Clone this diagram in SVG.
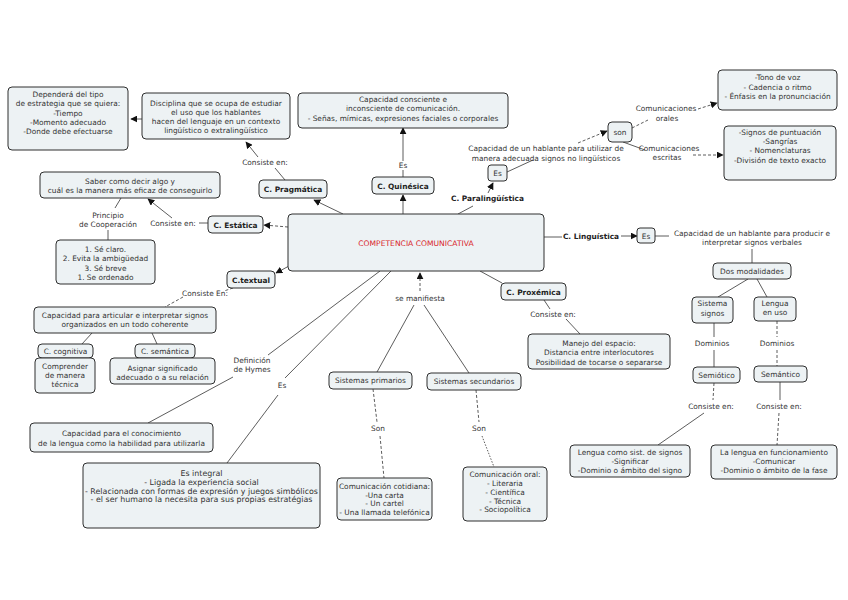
<svg xmlns="http://www.w3.org/2000/svg" width="848" height="600" viewBox="0 0 848 600">
<defs>
<style>
.b{fill:#edf2f4;stroke:#2e2e2e;stroke-width:1}
text{font-family:"DejaVu Sans","Liberation Sans",sans-serif;font-size:7.4px;fill:#333;text-anchor:middle}
.t{font-weight:bold;font-size:7.4px;fill:#222}
.r{fill:#d9252a;font-size:7.6px}
.w{font-size:7.9px}
.c{fill:none;stroke:#333;stroke-width:0.8}
.d{stroke-dasharray:3,2}
.a{marker-end:url(#ah)}
</style>
<marker id="ah" viewBox="0 0 10 10" refX="9" refY="5" markerWidth="7" markerHeight="7" markerUnits="userSpaceOnUse" orient="auto">
<path d="M0,0 L10,5 L0,10 z" fill="#111"/>
</marker>
</defs>
<rect width="848" height="600" fill="#fff"/>
<g id="connectors">
<path class="c a" d="M142,119 L131,119"/>
<path class="c" d="M285,180 L275,168"/>
<path class="c a" d="M258,157 L246,142"/>
<path class="c a" d="M343,214 L314,200"/>
<path class="c a" d="M403,214 L403,195"/>
<path class="c" d="M403,177 L403,170"/>
<path class="c a" d="M403,161 L403,128"/>
<path class="c" d="M458,214 L473,206"/>
<path class="c a" d="M488,193 L493,183"/>
<path class="c" d="M507,172 L533,160"/>
<path class="c d a" d="M578,143 L607,131"/>
<path class="c d" d="M632,128 L648,120"/>
<path class="c d a" d="M698,109 L717,103"/>
<path class="c" d="M623,142 L645,150"/>
<path class="c d a" d="M693,155 L723,155"/>
<path class="c d a" d="M288,227 L264,225"/>
<path class="c" d="M199,223 L208,223"/>
<path class="c a" d="M172,218 L148,199"/>
<path class="c" d="M121,198 L115,208"/>
<path class="c" d="M108,230 L108,240"/>
<path class="c a" d="M289,266 L276,273"/>
<path class="c d" d="M233,288 L224,291"/>
<path class="c d" d="M183,297 L165,307"/>
<path class="c" d="M92,333 L82,344"/>
<path class="c" d="M152,333 L157,344"/>
<path class="c" d="M380,271 L268,355"/>
<path class="c" d="M233,377 L148,423"/>
<path class="c" d="M391,271 L285,378"/>
<path class="c" d="M278,395 L227,463"/>
<path class="c d a" d="M420,291 L420,273"/>
<path class="c" d="M414,305 L377,372"/>
<path class="c" d="M424,305 L469,373"/>
<path class="c d" d="M373,389 L377,422"/>
<path class="c d" d="M380,436 L384,478"/>
<path class="c d" d="M476,390 L479,422"/>
<path class="c" style="stroke-dasharray:1.5,1.5" d="M482,436 L494,467"/>
<path class="c" d="M480,271 L502,283"/>
<path class="c" d="M544,300 L550,309"/>
<path class="c" d="M566,319 L580,334"/>
<path class="c" d="M544,237 L562,237"/>
<path class="c a" d="M621,236 L637,236"/>
<path class="c" d="M655,236 L669,236"/>
<path class="c" d="M752,249 L752,263"/>
<path class="c" d="M748,279 L718,297"/>
<path class="c" d="M757,279 L767,297"/>
<path class="c" d="M714,323 L714,337"/>
<path class="c" d="M714,350 L714,367"/>
<path class="c d" d="M777,321 L777,337"/>
<path class="c d" d="M777,350 L777,366"/>
<path class="c d" d="M714,383 L713,400"/>
<path class="c" d="M704,413 L658,445"/>
<path class="c" d="M780,382 L780,400"/>
<path class="c d" d="M779,413 L777,445"/>
</g>
<g id="labels">
<text x="265" y="164.5">Consiste en:</text>
<text x="403" y="168">Es</text>
<text class="t" x="487.5" y="200.5">C. Paralingüística</text>
<text x="546" y="150.5">Capacidad de un hablante para utilizar de</text>
<text x="546" y="160.5">manera adecuada signos no lingüísticos</text>
<text x="666" y="110.5">Comunicaciones</text>
<text x="667" y="120.5">orales</text>
<text x="669" y="150.5">Comunicaciones</text>
<text x="667" y="160">escritas</text>
<text x="108" y="217.5">Principio</text>
<text x="108" y="226.5">de Cooperación</text>
<text x="173" y="225.5">Consiste en:</text>
<text x="205" y="296">Consiste En:</text>
<text x="252" y="362.5">Definición</text>
<text x="252" y="371.5">de Hymes</text>
<text x="282" y="388">Es</text>
<text x="420" y="300.5">se manifiesta</text>
<text x="378" y="430.5">Son</text>
<text x="479" y="430.5">Son</text>
<text class="t" x="591" y="238.5">C. Linguística</text>
<text x="752" y="235.5">Capacidad de un hablante para producir e</text>
<text x="752" y="244.5">interpretar signos verbales</text>
<text x="553" y="317">Consiste en:</text>
<text x="712" y="345.5">Dominios</text>
<text x="777" y="345.5">Dominios</text>
<text x="711" y="409">Consiste en:</text>
<text x="779" y="409">Consiste en:</text>
</g>
<g id="n-dependera"><rect class="b" x="8" y="87" width="120" height="63" rx="4"/>
<text x="68" y="97">Dependerá del tipo</text><text x="68" y="106">de estrategia que se quiera:</text><text x="68" y="116">-Tiempo</text><text x="68" y="125">-Momento adecuado</text><text x="68" y="134">-Donde debe efectuarse</text></g>
<g id="n-disciplina"><rect class="b" x="142" y="93" width="148" height="46" rx="4"/>
<text x="216" y="105.5">Disciplina que se ocupa de estudiar</text><text x="216" y="114.5">el uso que los hablantes</text><text x="216" y="123.5">hacen del lenguaje en un contexto</text><text x="216" y="132.5">lingüístico o extralingüístico</text></g>
<g id="n-consciente"><rect class="b" x="298" y="93" width="210" height="35" rx="4"/>
<text x="403" y="101.5">Capacidad consciente e</text><text x="403" y="110.5">inconsciente de comunicación.</text><text x="403" y="120.5">- Señas, mímicas, expresiones faciales o corporales</text></g>
<g id="n-tono"><rect class="b" x="718" y="70" width="119" height="40" rx="4"/>
<text x="777.5" y="79.5">-Tono de voz</text><text x="777.5" y="89.5">- Cadencia o ritmo</text><text x="777.5" y="98.5">- Énfasis en la pronunciación</text></g>
<g id="n-signos"><rect class="b" x="724" y="126" width="112" height="54" rx="4"/>
<text x="780" y="134.5">-Signos de puntuación</text><text x="780" y="143.5">-Sangrías</text><text x="780" y="152.5">- Nomenclaturas</text><text x="780" y="162.5">-División de texto exacto</text></g>
<g id="n-son"><rect class="b" x="608" y="122" width="24" height="20" rx="4"/><text x="620" y="134.5">son</text></g>
<g id="n-es1"><rect class="b" x="488" y="165" width="19" height="16" rx="3"/><text x="497.5" y="175.5">Es</text></g>
<g id="n-pragmatica"><rect class="b" x="259" y="180" width="68" height="18" rx="4"/><text class="t" x="293" y="192">C. Pragmática</text></g>
<g id="n-quinesica"><rect class="b" x="372" y="177" width="62" height="17" rx="4"/><text class="t" x="403" y="188.5">C. Quinésica</text></g>
<g id="n-saber"><rect class="b" x="40" y="172" width="180" height="26" rx="4"/>
<text x="130" y="183.5">Saber como decir algo y</text><text x="130" y="192.5">cuál es la manera más eficaz de conseguirlo</text></g>
<g id="n-estatica"><rect class="b" x="208" y="216" width="55" height="17" rx="4"/><text class="t" x="235.5" y="227.5">C. Estática</text></g>
<g id="n-principios"><rect class="b" x="56" y="240" width="99" height="44" rx="4"/>
<text x="105.5" y="251.5">1. Sé claro.</text><text x="105.5" y="260.5">2. Evita la ambigüedad</text><text x="105.5" y="270.5">3. Sé breve</text><text x="105.5" y="279.5">1. Se ordenado</text></g>
<g id="n-competencia"><rect class="b" x="288" y="214" width="256" height="57" rx="4"/><text class="r" x="416" y="245.5">COMPETENCIA COMUNICATIVA</text></g>
<g id="n-textual"><rect class="b" x="227" y="271" width="48" height="17" rx="4"/><text class="t" x="251" y="282.5">C.textual</text></g>
<g id="n-es2"><rect class="b" x="637" y="228" width="18" height="15" rx="3"/><text x="646" y="238.5">Es</text></g>
<g id="n-dos"><rect class="b" x="713" y="263" width="78" height="16" rx="4"/><text x="752" y="273.5">Dos modalidades</text></g>
<g id="n-sistema"><rect class="b" x="692" y="297" width="41" height="26" rx="4"/><text x="712.5" y="306">Sistema</text><text x="712.5" y="316">signos</text></g>
<g id="n-lenguauso"><rect class="b" x="754" y="297" width="42" height="24" rx="4"/><text x="775" y="305.5">Lengua</text><text x="775" y="315">en uso</text></g>
<g id="n-proxemica"><rect class="b" x="501" y="283" width="65" height="17" rx="4"/><text class="t" x="533.5" y="294.5">C. Proxémica</text></g>
<g id="n-manejo"><rect class="b" x="528" y="334" width="142" height="35" rx="4"/>
<text x="599" y="345.5">Manejo del espacio:</text><text x="599" y="355">Distancia entre interlocutores</text><text x="599" y="364.5">Posibilidad de tocarse o separarse</text></g>
<g id="n-semiotico"><rect class="b" x="693" y="367" width="47" height="16" rx="4"/><text x="716.5" y="378">Semiótico</text></g>
<g id="n-semantico"><rect class="b" x="754" y="366" width="53" height="16" rx="4"/><text x="780.5" y="377">Semántico</text></g>
<g id="n-lenguasist"><rect class="b" x="570" y="445" width="120" height="32" rx="4"/>
<text x="630" y="455">Lengua como sist. de signos</text><text x="630" y="464">-Significar</text><text x="630" y="473">-Dominio o ámbito del signo</text></g>
<g id="n-lenguafunc"><rect class="b" x="711" y="445" width="126" height="34" rx="4"/>
<text x="774" y="455">La lengua en funcionamiento</text><text x="774" y="464">-Comunicar</text><text x="774" y="473">-Dominio o ámbito de la fase</text></g>
<g id="n-articular"><rect class="b" x="34" y="307" width="182" height="26" rx="4"/>
<text x="125" y="317.5">Capacidad para articular e interpretar signos</text><text x="125" y="326.5">organizados en un todo coherente</text></g>
<g id="n-cognitiva"><rect class="b" x="38" y="344" width="55" height="14" rx="4"/><text x="65.5" y="354">C. cognitiva</text></g>
<g id="n-comprender"><rect class="b" x="35" y="358" width="60" height="35" rx="4"/>
<text x="65" y="368.5">Comprender</text><text x="65" y="377.5">de manera</text><text x="65" y="386.5">técnica</text></g>
<g id="n-csemantica"><rect class="b" x="135" y="344" width="60" height="14" rx="4"/><text x="165" y="354">C. semántica</text></g>
<g id="n-asignar"><rect class="b" x="110" y="358" width="105" height="26" rx="4"/>
<text x="162.5" y="370.5">Asignar significado</text><text x="162.5" y="379.5">adecuado o a su relación</text></g>
<g id="n-conocimiento"><rect class="b" x="30" y="423" width="183" height="29" rx="4"/>
<text x="121.5" y="435.5">Capacidad para el conocimiento</text><text x="121.5" y="445.5">de la lengua como la habilidad para utilizarla</text></g>
<g id="n-integral"><rect class="b" x="83" y="463" width="237" height="65" rx="4"/>
<text class="w" x="201.5" y="475.5">Es integral</text><text class="w" x="201.5" y="484.5">- Ligada la experiencia social</text><text class="w" x="201.5" y="493.5">- Relacionada con formas de expresión y juegos simbólicos</text><text class="w" x="201.5" y="502">- el ser humano la necesita para sus propias estratégias</text></g>
<g id="n-primarios"><rect class="b" x="329" y="372" width="83" height="17" rx="4"/><text x="370.5" y="383">Sistemas primarios</text></g>
<g id="n-secundarios"><rect class="b" x="427" y="373" width="94" height="17" rx="4"/><text x="474" y="384">Sistemas secundarios</text></g>
<g id="n-cotidiana"><rect class="b" x="337" y="478" width="95" height="42" rx="4"/>
<text x="384.5" y="488.5">Comunicación cotidiana:</text><text x="384.5" y="497.5">-Una carta</text><text x="384.5" y="506">- Un cartel</text><text x="384.5" y="515">- Una llamada telefónica</text></g>
<g id="n-oral"><rect class="b" x="463" y="467" width="84" height="54" rx="4"/>
<text x="505" y="476.5">Comunicación oral:</text><text x="505" y="485.5">- Literaria</text><text x="505" y="494.5">- Científica</text><text x="505" y="503.5">- Técnica</text><text x="505" y="512">- Sociopolítica</text></g>
</svg>
